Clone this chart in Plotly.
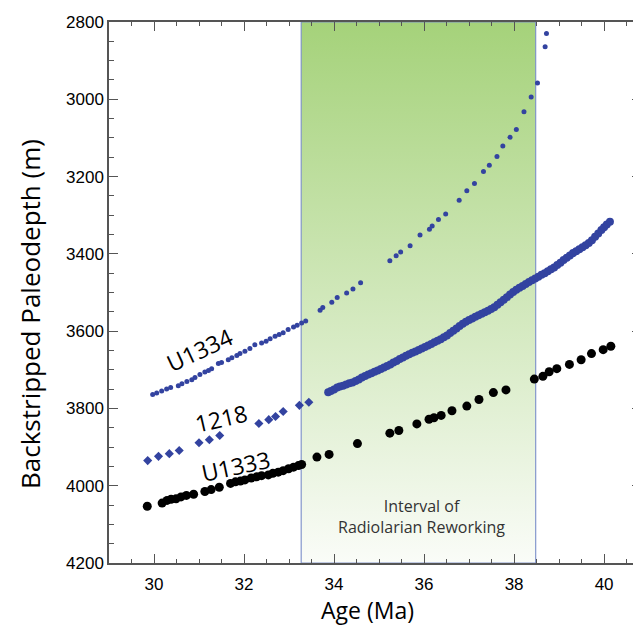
import plotly.graph_objects as go

# ---------------- data ----------------
# Site U1334 (small blue dots)
u1334_age = [29.97, 30.06, 30.17, 30.28, 30.37, 30.54, 30.62, 30.73, 30.84, 30.91,
             31.02, 31.13, 31.21, 31.28, 31.43, 31.50, 31.65, 31.73, 31.84, 31.91,
             32.02, 32.13, 32.24, 32.39, 32.49, 32.58, 32.69, 32.78, 32.87, 32.98,
             33.10, 33.18, 33.28, 33.37, 33.69, 33.75, 33.95, 34.07, 34.28, 34.42,
             34.59, 35.24, 35.38, 35.48, 35.69, 35.91, 36.12, 36.18, 36.32, 36.48,
             36.78, 36.95, 37.12, 37.32, 37.45, 37.62, 37.75, 37.91, 38.05, 38.22,
             38.38, 38.52, 38.69, 38.72]
u1334_depth = [3764, 3760, 3755, 3750, 3746, 3741, 3736, 3730, 3726, 3720,
               3712, 3706, 3702, 3697, 3684, 3681, 3674, 3669, 3663, 3658,
               3652, 3645, 3635, 3631, 3626, 3620, 3613, 3609, 3604, 3596,
               3589, 3585, 3579, 3574, 3546, 3539, 3525, 3513, 3501, 3491,
               3475, 3418, 3405, 3395, 3379, 3351, 3336, 3328, 3311, 3297,
               3261, 3237, 3218, 3187, 3171, 3148, 3121, 3098, 3078, 3032,
               2994, 2958, 2864, 2830]

# Site 1218, older part (blue diamonds)
s1218_diam_age = [29.86, 30.10, 30.34, 30.56, 31.00, 31.23, 31.46, 32.33, 32.55, 32.70,
                  32.87, 33.23, 33.44]
s1218_diam_depth = [3935, 3924, 3917, 3909, 3889, 3881, 3870, 3839, 3829, 3821,
                    3808, 3792, 3784]

# Site 1218, dense part (blue dots)
s1218_age = [33.87, 33.93, 34.00, 34.07, 34.13, 34.20, 34.27, 34.34, 34.41, 34.48,
             34.55, 34.62, 34.69, 34.76, 34.83, 34.90, 34.97, 35.04, 35.11, 35.18,
             35.25, 35.32, 35.39, 35.46, 35.53, 35.60, 35.67, 35.74, 35.81, 35.88,
             35.95, 36.02, 36.09, 36.16, 36.23, 36.30, 36.37, 36.44, 36.51, 36.58,
             36.65, 36.72, 36.79, 36.86, 36.93, 37.00, 37.07, 37.14, 37.21, 37.28,
             37.35, 37.42, 37.49, 37.56, 37.63, 37.70, 37.77, 37.84, 37.91, 37.98,
             38.05, 38.12, 38.19, 38.26, 38.33, 38.40, 38.47, 38.54, 38.61, 38.68,
             38.75, 38.82, 38.89, 38.96, 39.03, 39.10, 39.17, 39.24, 39.31, 39.38,
             39.45, 39.52, 39.59, 39.66, 39.73, 39.80, 39.87, 39.94, 40.00, 40.06,
             40.13]
s1218_depth = [3758, 3755, 3751, 3746, 3743, 3741, 3738, 3735, 3733, 3729,
               3725, 3720, 3716, 3712, 3709, 3705, 3702, 3698, 3694, 3690,
               3686, 3681, 3677, 3672, 3668, 3664, 3660, 3656, 3653, 3649,
               3645, 3641, 3637, 3633, 3629, 3625, 3621, 3616, 3611, 3605,
               3599, 3593, 3587, 3581, 3576, 3571, 3567, 3563, 3559, 3555,
               3551, 3547, 3543, 3538, 3532, 3525, 3519, 3512, 3505, 3499,
               3493, 3488, 3483, 3478, 3473, 3468, 3464, 3459, 3454, 3450,
               3445, 3440, 3435, 3429, 3423, 3416, 3410, 3404, 3398, 3393,
               3388, 3383, 3378, 3372, 3365, 3356, 3347, 3338, 3331, 3324,
               3317]

# Site U1333 (black circles)
u1333_age = [29.85, 30.18, 30.29, 30.38, 30.49, 30.60, 30.72, 30.88, 31.13, 31.27,
             31.45, 31.70, 31.81, 31.92, 32.02, 32.16, 32.28, 32.39, 32.54, 32.64,
             32.76, 32.87, 32.99, 33.10, 33.21, 33.28, 33.62, 33.89, 34.52, 35.24,
             35.44, 35.84, 36.11, 36.22, 36.38, 36.62, 36.95, 37.22, 37.54, 37.82,
             38.45, 38.64, 38.78, 38.95, 39.23, 39.49, 39.72, 39.98, 40.15]
u1333_depth = [4053, 4045, 4038, 4035, 4034, 4029, 4025, 4022, 4015, 4010,
               4004, 3994, 3990, 3988, 3985, 3980, 3977, 3974, 3972, 3968,
               3965, 3961, 3956, 3952, 3948, 3945, 3926, 3919, 3891, 3864,
               3857, 3840, 3828, 3824, 3818, 3806, 3794, 3777, 3759, 3752,
               3724, 3717, 3705, 3697, 3686, 3674, 3658, 3648, 3639]

# Interval of radiolarian reworking (age bounds)
interval_age = [33.27, 38.48]

x_ticks = [30, 32, 34, 36, 38, 40]
y_ticks = [2800, 3000, 3200, 3400, 3600, 3800, 4000, 4200]

BLUE = "#3343a0"
LABEL_FONT = "Open Sans"

fig = go.Figure()

# shaded interval with vertical gradient
fig.add_trace(go.Scatter(
    x=[interval_age[0], interval_age[1], interval_age[1], interval_age[0], interval_age[0]],
    y=[2800, 2800, 4200, 4200, 2800],
    mode="lines", fill="toself",
    line=dict(color="rgba(120,140,200,0.9)", width=1.2),
    fillgradient=dict(type="vertical", start=4200, stop=2800,
                      colorscale=[[0, "#fafcf8"], [1, "#a5d27a"]]),
    hoverinfo="skip", showlegend=False,
))

fig.add_trace(go.Scatter(x=u1334_age, y=u1334_depth, mode="markers",
                         marker=dict(color=BLUE, size=5), showlegend=False))
fig.add_trace(go.Scatter(x=s1218_diam_age, y=s1218_diam_depth, mode="markers",
                         marker=dict(color=BLUE, size=7, symbol="diamond"), showlegend=False))
fig.add_trace(go.Scatter(x=s1218_age, y=s1218_depth, mode="markers",
                         marker=dict(color=BLUE, size=8), showlegend=False))
fig.add_trace(go.Scatter(x=u1333_age, y=u1333_depth, mode="markers",
                         marker=dict(color="black", size=9), showlegend=False))

axis_common = dict(
    showgrid=False, zeroline=False, showline=True, linecolor="#555555", linewidth=1.5,
    mirror="ticks", ticks="inside", ticklen=9, tickwidth=1.2, tickcolor="#555555",
    tickfont=dict(family="Liberation Sans, Arial", size=17, color="black"),
    automargin=False,
)

fig.update_xaxes(range=[29, 40.82], tickvals=x_ticks, ticklabelstandoff=5,
                 minor=dict(dtick=0.5, ticks="inside", ticklen=4, tickcolor="#555555"),
                 **axis_common)
fig.update_yaxes(range=[4200, 2800], tickvals=y_ticks,
                 minor=dict(dtick=50, ticks="inside", ticklen=5, tickcolor="#555555"),
                 **axis_common)

annotations = [
    dict(text="Age (Ma)", xref="paper", yref="paper", x=(367 - 109) / 532, y=-(610 - 563) / 541,
         showarrow=False, font=dict(family=LABEL_FONT, size=23, color="black"),
         xanchor="center", yanchor="middle"),
    dict(text="Backstripped Paleodepth (m)", xref="paper", yref="paper",
         x=-(109 - 30) / 532, y=(563 - 314) / 541, textangle=-90,
         showarrow=False, font=dict(family=LABEL_FONT, size=26, color="black"),
         xanchor="center", yanchor="middle"),
    dict(text="U1334", x=31.0, y=3650, textangle=-25, showarrow=False,
         font=dict(family=LABEL_FONT, size=23, color="black")),
    dict(text="1218", x=31.51, y=3826, textangle=-13, showarrow=False,
         font=dict(family=LABEL_FONT, size=23, color="black")),
    dict(text="U1333", x=31.82, y=3948, textangle=-12, showarrow=False,
         font=dict(family=LABEL_FONT, size=23, color="black")),
    dict(text="Interval of<br>Radiolarian Reworking", x=35.95, y=4080, showarrow=False,
         font=dict(family=LABEL_FONT, size=16, color="#333333"), align="center"),
]

# the page body adds an 8 px margin, so the figure is 8 px smaller each way
fig.update_layout(
    width=633, height=621,
    margin=dict(l=101, r=0, t=14, b=66),
    plot_bgcolor="white", paper_bgcolor="white",
    annotations=annotations, hovermode=False, showlegend=False,
)

fig.write_html("out.html")
